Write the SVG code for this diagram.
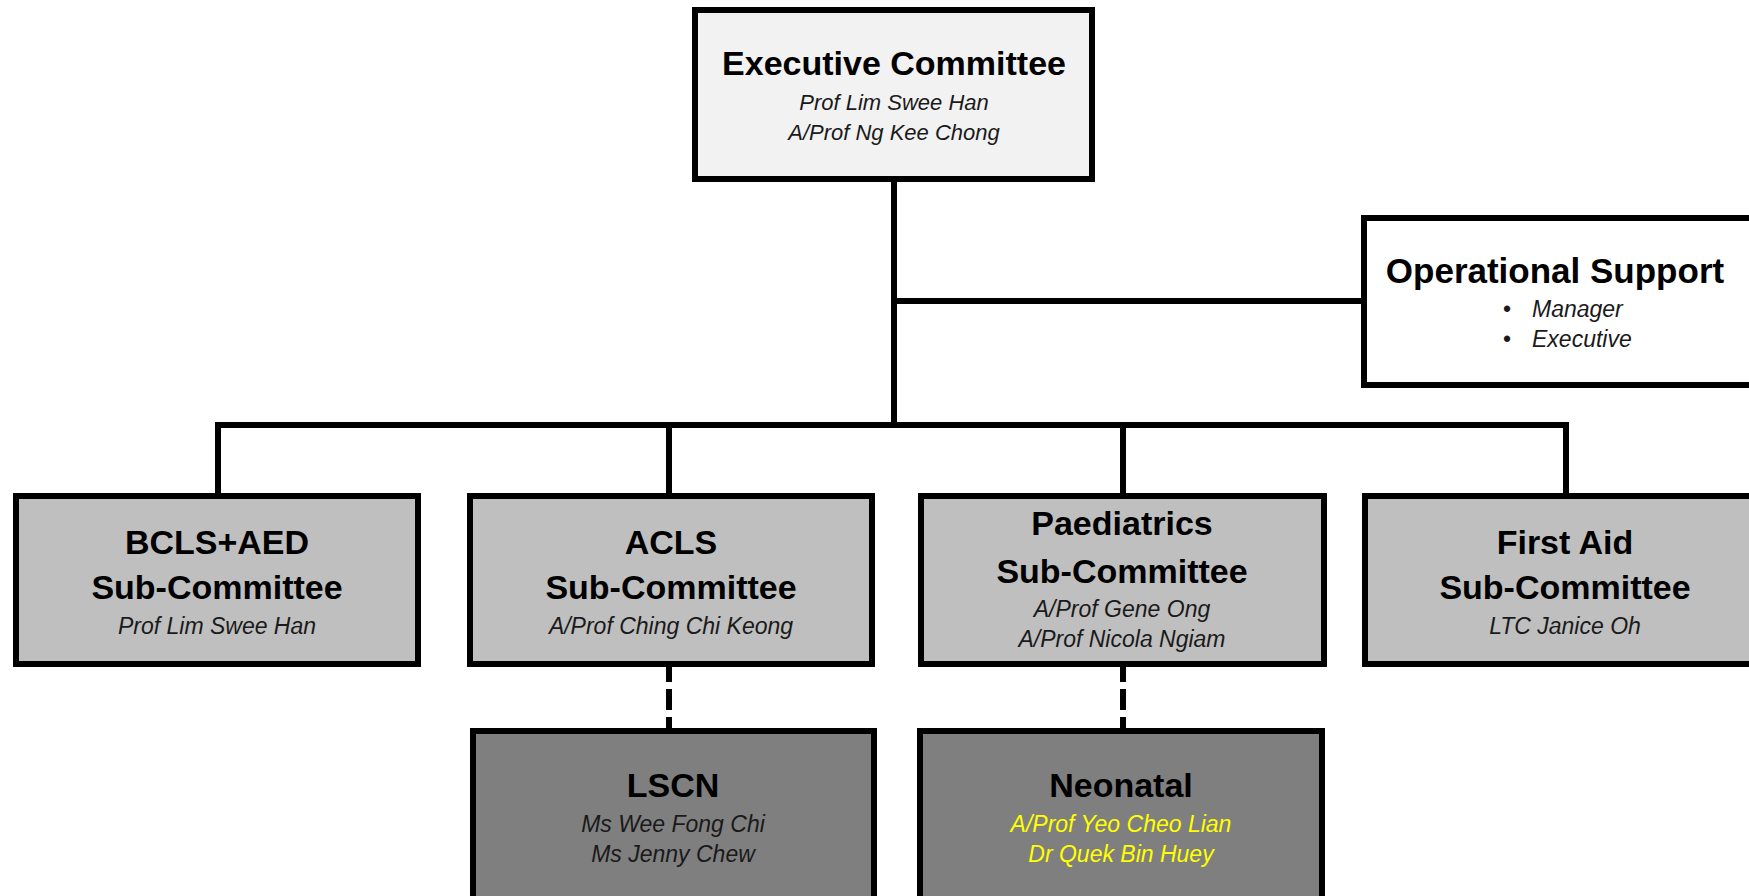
<svg xmlns="http://www.w3.org/2000/svg" width="1749" height="896" viewBox="0 0 1749 896">
<style>
  .box{stroke:#000;stroke-width:6}
  .exec{fill:#f2f2f2}
  .ops{fill:#ffffff}
  .sub{fill:#bfbfbf}
  .dark{fill:#7f7f7f}
  .t{font-family:"Liberation Sans",Arial,sans-serif;font-weight:bold;font-size:34px;fill:#000;text-anchor:middle}
  .n{font-family:"Liberation Sans",Arial,sans-serif;font-style:italic;font-size:23px;fill:#1a1a1a;text-anchor:middle}
  .y{fill:#ffff00}
  .b{font-family:"Liberation Sans",Arial,sans-serif;font-size:23px;fill:#1a1a1a}
  .bi{font-style:italic}
  .c{fill:none;stroke:#000;stroke-width:6}
  .d{stroke-dasharray:21 7}
</style>
<rect width="1749" height="896" fill="#ffffff"/>
<g id="connectors">
  <path class="c" d="M894 182 V425"/>
  <path class="c" d="M894 301 H1362"/>
  <path class="c" d="M218 494 V425 H1566 V494"/>
  <path class="c" d="M669 425 V494"/>
  <path class="c" d="M1123 425 V494"/>
  <path class="c d" d="M669 661 V730"/>
  <path class="c d" d="M1123 661 V730"/>
</g>
<g id="executive">
  <rect class="box exec" x="695" y="10" width="397" height="169"/>
  <text class="t" x="894" y="75">Executive Committee</text>
  <text class="n" x="894" y="110" style="font-size:22px">Prof Lim Swee Han</text>
  <text class="n" x="894" y="140" style="font-size:22px">A/Prof Ng Kee Chong</text>
</g>
<g id="operational">
  <rect class="box ops" x="1364" y="218" width="420" height="167"/>
  <text class="t" x="1555" y="283" style="font-size:35px">Operational Support</text>
  <text class="b" x="1503" y="317">•</text>
  <text class="b bi" x="1532" y="317">Manager</text>
  <text class="b" x="1503" y="347">•</text>
  <text class="b bi" x="1532" y="347">Executive</text>
</g>
<g id="bcls">
  <rect class="box sub" x="16" y="496" width="402" height="168"/>
  <text class="t" x="217" y="554">BCLS+AED</text>
  <text class="t" x="217" y="599">Sub-Committee</text>
  <text class="n" x="217" y="634">Prof Lim Swee Han</text>
</g>
<g id="acls">
  <rect class="box sub" x="470" y="496" width="402" height="168"/>
  <text class="t" x="671" y="554">ACLS</text>
  <text class="t" x="671" y="599">Sub-Committee</text>
  <text class="n" x="671" y="634">A/Prof Ching Chi Keong</text>
</g>
<g id="paediatrics">
  <rect class="box sub" x="921" y="496" width="403" height="168"/>
  <text class="t" x="1122" y="535">Paediatrics</text>
  <text class="t" x="1122" y="583">Sub-Committee</text>
  <text class="n" x="1122" y="617">A/Prof Gene Ong</text>
  <text class="n" x="1122" y="647">A/Prof Nicola Ngiam</text>
</g>
<g id="firstaid">
  <rect class="box sub" x="1365" y="496" width="420" height="168"/>
  <text class="t" x="1565" y="554">First Aid</text>
  <text class="t" x="1565" y="599">Sub-Committee</text>
  <text class="n" x="1565" y="634">LTC Janice Oh</text>
</g>
<g id="lscn">
  <rect class="box dark" x="473" y="731" width="401" height="200"/>
  <text class="t" x="673" y="797">LSCN</text>
  <text class="n" x="673" y="832">Ms Wee Fong Chi</text>
  <text class="n" x="673" y="862">Ms Jenny Chew</text>
</g>
<g id="neonatal">
  <rect class="box dark" x="920" y="731" width="402" height="200"/>
  <text class="t" x="1121" y="797">Neonatal</text>
  <text class="n y" x="1121" y="832">A/Prof Yeo Cheo Lian</text>
  <text class="n y" x="1121" y="862">Dr Quek Bin Huey</text>
</g>
</svg>
